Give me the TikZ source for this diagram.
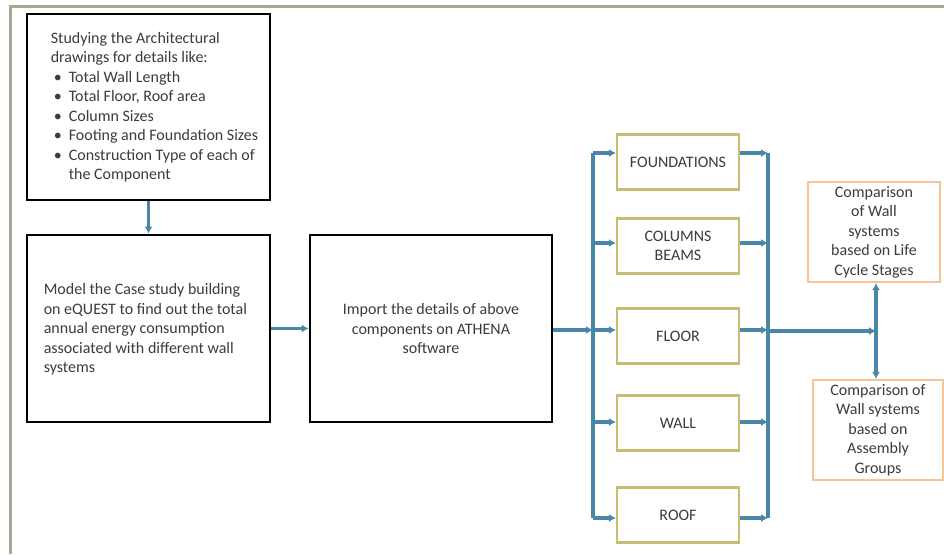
\documentclass[tikz,border=0pt]{standalone}
\usepackage{fontspec}
\setmainfont{Carlito}
\usetikzlibrary{arrows.meta}
\definecolor{conncol}{RGB}{74,134,168}
\definecolor{olivebox}{RGB}{200,190,115}
\definecolor{orangebox}{RGB}{248,196,150}
\definecolor{framecol}{RGB}{165,170,150}
\definecolor{txt}{RGB}{60,60,60}
\newcommand\bulitem{\makebox[18pt][l]{\hspace{3pt}•}}
\begin{document}
\begin{tikzpicture}[x=1pt,y=-1pt,
  every node/.style={font=\fontsize{16}{19.5}\selectfont, text=txt},
  bigbox/.style={draw=black, line width=2.8pt, fill=white, inner sep=0pt},
  plaintext/.style={inner sep=0pt, align=left},
  compbox/.style={draw=olivebox, line width=2.2pt, fill=white, minimum width=122pt, minimum height=55pt, inner sep=0pt, align=center},
  resbox/.style={draw=orangebox, line width=2.2pt, fill=white, minimum height=100pt, inner sep=0pt, align=center},
  conn/.style={draw=conncol, line width=3.4pt},
  arr/.style={conn, -{Latex[length=7pt,width=8pt]}}]
\useasboundingbox (0,0) rectangle (944,554);
\fill[white] (0,0) rectangle (944,554);
\draw[framecol, line width=3pt] (10.5,554) -- (10.5,6.5) -- (944,6.5);

% left column
\node[bigbox, minimum width=243pt, minimum height=186pt] (b1) at (148.5,107) {};
\node[plaintext, anchor=west] (t1) at ([xshift=25pt]b1.west) {Studying the Architectural\\drawings for details like:\\\bulitem Total Wall Length\\\bulitem Total Floor, Roof area\\\bulitem Column Sizes\\\bulitem Footing and Foundation Sizes\\\bulitem Construction Type of each of\\\hspace*{18pt}the Component};

\node[bigbox, minimum width=243pt, minimum height=187pt] (b2) at (148.5,328.5) {};
\node[plaintext, anchor=west] (t2) at ([xshift=18pt,yshift=-1pt]b2.west) {Model the Case study building\\on eQUEST to find out the total\\annual energy consumption\\associated with different wall\\systems};

\node[bigbox, minimum width=242pt, minimum height=187pt, align=center] (b3) at (431,328.5) {Import the details of above\\components on ATHENA\\software};

% component boxes
\node[compbox] (fnd) at (678,162) {FOUNDATIONS};
\node[compbox] (col) at (678,246) {COLUMNS\\BEAMS};
\node[compbox] (flr) at (678,336) {FLOOR};
\node[compbox] (wal) at (678,423) {WALL};
\node[compbox] (rof) at (678,515) {ROOF};

% result boxes
\node[resbox, minimum width=132pt] (res1) at (874,232) {Comparison\\of Wall\\systems\\based on Life\\Cycle Stages};
\node[resbox, minimum width=130pt] (res2) at (878,430) {Comparison of\\Wall systems\\based on\\Assembly\\Groups};

% bus coordinates
\coordinate (L1) at (593,153);
\coordinate (L3) at (593,330);
\coordinate (L5) at (593,518);
\coordinate (R1) at (768,153);
\coordinate (R3) at (768,331);
\coordinate (R5) at (768,518);
\coordinate (F) at (876,331);

% connectors
\draw[arr] (b1.south) -- (b2.north);
\draw[arr] (b2.east) -- (b3.west);
\draw[arr] (b3.east |- L3) -- (L3);

\draw[conn] (L1) -- (L5);
\draw[arr] (L1) -- ([yshift=9pt]fnd.west);
\draw[arr] ([yshift=3pt]col.west -| L1) -- ([yshift=3pt]col.west);
\draw[arr] (L3) -- ([yshift=6pt]flr.west);
\draw[arr] ([yshift=1pt]wal.west -| L1) -- ([yshift=1pt]wal.west);
\draw[arr] (L5) -- ([yshift=-3pt]rof.west);

\draw[arr] ([yshift=9pt]fnd.east) -- (R1);
\draw[arr] ([yshift=3pt]col.east) -- ([yshift=3pt]col.east -| R1);
\draw[arr] ([yshift=6pt]flr.east) -- ([yshift=6pt]flr.east -| R1);
\draw[arr] ([yshift=1pt]wal.east) -- ([yshift=1pt]wal.east -| R1);
\draw[arr] ([yshift=-3pt]rof.east) -- (R5);
\draw[conn] (R1) -- (R5);

\draw[arr] (R3) -- (F);
\draw[arr] (F) -- (F |- res1.south);
\draw[arr] (F) -- (F |- res2.north);
\end{tikzpicture}
\end{document}
